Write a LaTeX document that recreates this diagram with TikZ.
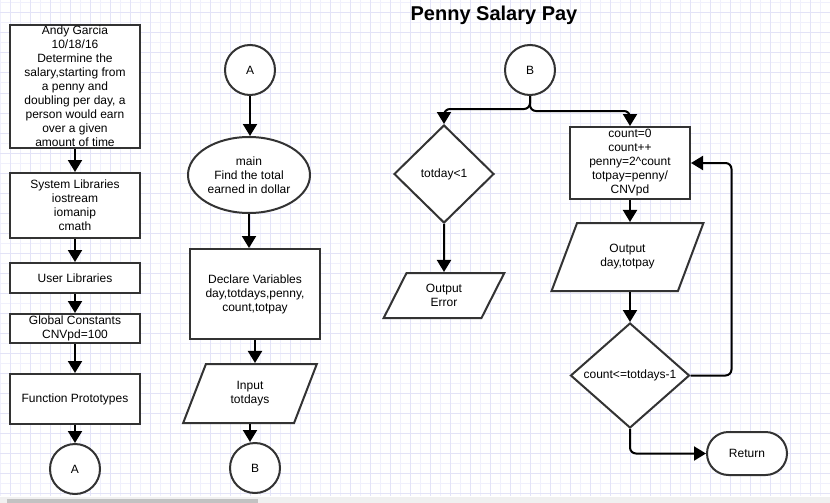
\documentclass[tikz,border=0pt]{standalone}
\usepackage{fontspec}
\setmainfont{Liberation Sans}
\usepackage{tikz}
\usetikzlibrary{shapes.geometric}
\usetikzlibrary{shapes.misc}
\usetikzlibrary{arrows.meta}
\definecolor{edgegray}{HTML}{333333}
\definecolor{gridminor}{HTML}{F0F0FC}
\definecolor{gridmajor}{HTML}{E3E3F7}
\definecolor{barback}{HTML}{F0F0F0}
\definecolor{barthumb}{HTML}{C2C2C2}
\tikzstyle{shp}=[draw=edgegray, line width=2pt, fill=white, inner sep=0pt, align=center, font=\fontsize{12}{14}\selectfont]
\tikzstyle{proc}=[shp, rectangle, minimum width=130pt]
\tikzstyle{link}=[shp, circle, minimum size=50pt]
\tikzstyle{io}=[shp, trapezium, trapezium stretches=true]
\tikzstyle{decide}=[shp, diamond]
\tikzstyle{conn}=[line width=2pt, -{Triangle[width=14pt,length=12pt]}]

\begin{document}
\begin{tikzpicture}[x=1pt, y=-1pt]
        \useasboundingbox (0,0) rectangle (830,503);
        % paper grid
        \fill[white] (0,0) rectangle (830,503);
        \foreach \gx in {0,20,...,820} \draw[gridminor, line width=1pt] (\gx,0) -- (\gx,496);
        \foreach \gy in {3,23,...,483} \draw[gridminor, line width=1pt] (0,\gy) -- (830,\gy);
        \foreach \gx in {10,30,...,830} \draw[gridmajor, line width=1pt] (\gx,0) -- (\gx,496);
        \foreach \gy in {13,33,...,493} \draw[gridmajor, line width=1pt] (0,\gy) -- (830,\gy);
        \fill[barback] (0,497) rectangle (830,503);
        \fill[barthumb] (7,499) rectangle (258,503);

        \node[font=\fontsize{20}{24}\selectfont\bfseries] (title) at (494,15) {Penny Salary Pay};

        % left column
        \node[proc, minimum height=123pt] (hdr) at (75,86.5) {Andy Garcia\\10/18/16\\Determine the\\salary,starting from\\a penny and\\doubling per day, a\\person would earn\\over a given\\amount of time};
        \node[proc, minimum height=65pt] (syslib) at (75,205.5) {System Libraries\\iostream\\iomanip\\cmath};
        \node[proc, minimum height=30pt] (usrlib) at (75,278) {User Libraries};
        \node[proc, minimum height=29pt] (gconst) at (75,328.5) {Global Constants\\CNVpd=100};
        \node[proc, minimum height=50pt] (proto) at (75,399) {Function Prototypes};
        \node[link] (A1) at (75,469) {A};
        \draw[conn] (hdr.south) -- (syslib.north);
        \draw[conn] (syslib.south) -- (usrlib.north);
        \draw[conn] (usrlib.south) -- (gconst.north);
        \draw[conn] (gconst.south) -- (proto.north);
        \draw[conn] (proto.south) -- (A1.north);

        % main
        \node[link] (A2) at (250,70) {A};
        \node[shp, ellipse, minimum width=122pt, minimum height=76pt] (mainfn) at (249,175) {main\\Find the total\\earned in dollar};
        \node[proc, minimum height=90pt] (decl) at (255,294) {Declare Variables\\day,totdays,penny,\\count,totpay};
        \node[io, trapezium left angle=68, trapezium right angle=112, minimum width=134pt, minimum height=59pt] (inp) at (250,393.5) {Input\\totdays};
        \node[link] (B1) at (255,468) {B};
        \draw[conn] (A2.south) -- (A2.south |- mainfn.north);
        \draw[conn] (mainfn.south) -- (mainfn.south |- decl.north);
        \draw[conn] (decl.south) -- (decl.south |- inp.north);
        \draw[conn] (inp.south) -- (inp.south |- B1.north);

        % loop over the days
        \node[link] (B2) at (530,70) {B};
        \node[decide, minimum width=100pt, minimum height=98pt] (chk) at (444,174) {totday<1};
        \node[io, trapezium left angle=64, trapezium right angle=116, minimum width=121pt, minimum height=45pt] (err) at (444,295.5) {Output\\Error};
        \node[proc, minimum width=120pt, minimum height=72pt] (calc) at (630,163) {count=0\\count++\\penny=2\textasciicircum count\\totpay=penny/\\CNVpd};
        \node[io, trapezium left angle=61, trapezium right angle=119, minimum width=153pt, minimum height=68pt] (outp) at (627.5,257) {Output\\day,totpay};
        \node[decide, minimum width=119pt, minimum height=105pt] (again) at (630,375.5) {count<=totdays-1};
        \node[shp, rounded rectangle, minimum width=80pt, minimum height=43pt] (ret) at (747,453.5) {Return};
        \draw[conn, rounded corners=6pt] (B2.south) -- ++(0,13) -| (chk.north);
        \draw[conn, rounded corners=6pt] (B2.south) -- ++(0,15) -| (calc.north);
        \draw[conn] (chk.south) -- (err.north);
        \draw[conn] (calc.south) -- (calc.south |- outp.north);
        \draw[conn] (again.north |- outp.south) -- (again.north);
        \draw[conn, rounded corners=6pt] (again.east) -- ++(41,0) |- (calc.east);
        \draw[conn, rounded corners=6pt] (again.south) |- (ret.west);
    \end{tikzpicture}
\end{document}
